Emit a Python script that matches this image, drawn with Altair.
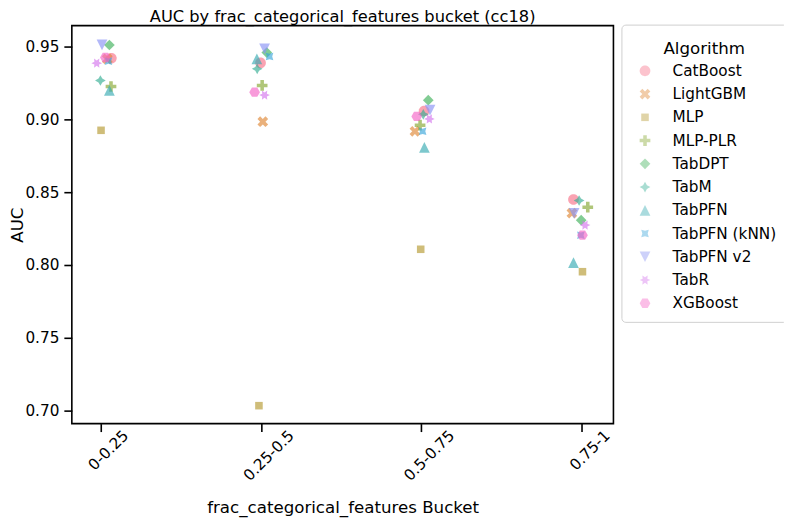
import json
import math
import altair as alt
import pandas as pd

# ---------------- data ----------------
buckets = ["0-0.25", "0.25-0.5", "0.5-0.75", "0.75-1"]
algorithms = ["CatBoost", "LightGBM", "MLP", "MLP-PLR", "TabDPT", "TabM",
              "TabPFN", "TabPFN (kNN)", "TabPFN v2", "TabR", "XGBoost"]

auc_b0 = [0.9420, 0.9415, 0.8925, 0.9226, 0.9511, 0.9267, 0.9199, 0.9400, 0.9512, 0.9386, 0.9425]
auc_b1 = [0.9388, 0.8984, 0.7034, 0.9233, 0.9459, 0.9347, 0.9415, 0.9432, 0.9484, 0.9167, 0.9187]
auc_b2 = [0.9057, 0.8918, 0.8108, 0.8960, 0.9132, 0.9035, 0.8808, 0.8918, 0.9064, 0.9003, 0.9020]
auc_b3 = [0.8450, 0.8356, 0.7954, 0.8397, 0.8308, 0.8443, 0.8016, 0.8205, 0.8354, 0.8274, 0.8205]

# strip-plot jitter (fraction of one category step)
jit_b0 = [0.068, 0.043, 0.004, 0.066, 0.056, 0.000, 0.056, 0.050, 0.010, -0.023, 0.031]
jit_b1 = [-0.002, 0.012, -0.012, 0.008, 0.037, -0.023, -0.025, 0.054, 0.023, 0.023, -0.039]
jit_b2 = [0.017, -0.040, -0.004, -0.008, 0.043, 0.012, 0.019, 0.008, 0.054, 0.050, -0.029]
jit_b3 = [-0.052, -0.062, 0.004, 0.037, -0.004, -0.017, -0.052, -0.006, -0.048, 0.020, 0.004]

colors = ["#f77189", "#df8735", "#b69931", "#86a731", "#3fb05a", "#34ae94",
          "#37abb2", "#3aa6da", "#8992f4", "#d475ed", "#f566c6"]

rows = []
for bi, (aucs, jits) in enumerate([(auc_b0, jit_b0), (auc_b1, jit_b1),
                                   (auc_b2, jit_b2), (auc_b3, jit_b3)]):
    for alg, a, j in zip(algorithms, aucs, jits):
        rows.append({"Algorithm": alg, "Bucket": buckets[bi], "AUC": a, "pos": bi + j})
df = pd.DataFrame(rows)


# ---------------- marker shapes (matplotlib / seaborn style) ----------------
def path_of(pts):
    return "M" + "L".join(f"{x:.4f},{y:.4f}" for x, y in pts) + "Z"


def regular(n, rot):
    return path_of([(math.cos(math.radians(90 + rot + k * 360 / n)),
                     -math.sin(math.radians(90 + rot + k * 360 / n))) for k in range(n)])


def star(n, rot, inner=0.5):
    pts = []
    for k in range(2 * n):
        r = 1 if k % 2 == 0 else inner
        t = math.radians(90 + rot + k * 180 / n)
        pts.append((r * math.cos(t), -r * math.sin(t)))
    return path_of(pts)


x_shape = path_of([(x / 2, y / 2) for x, y in
                   [(-1, -2), (0, -1), (1, -2), (2, -1), (1, 0), (2, 1),
                    (1, 2), (0, 1), (-1, 2), (-2, 1), (-1, 0), (-2, -1)]])
p_shape = path_of([(x / 3, y / 3) for x, y in
                   [(-1, -3), (1, -3), (1, -1), (3, -1), (3, 1), (1, 1),
                    (1, 3), (-1, 3), (-1, 1), (-3, 1), (-3, -1), (-1, -1)]])
shapes = [
    regular(36, 0),                              # o
    x_shape,                                     # X
    regular(4, 45),                              # square
    p_shape,                                     # P
    regular(4, 0),                               # diamond
    star(4, 0),                                  # 4-star
    path_of([(0, -1), (-1, 1), (1, 1)]),         # ^
    star(4, 45),                                 # 4-star rotated
    path_of([(0, 1), (-1, -1), (1, -1)]),        # v
    star(6, 30),                                 # 6-star
    regular(6, 30),                              # hexagon
]

FONT = "DejaVu Sans"
label_expr = json.dumps(buckets) + "[round(datum.value)]"

chart = alt.Chart(df).mark_point(filled=True, opacity=0.65, size=115, strokeWidth=0).encode(
    x=alt.X("pos:Q",
            scale=alt.Scale(domain=[-0.178, 3.197], nice=False, zero=False),
            axis=alt.Axis(values=[0, 1, 2, 3], labelExpr=label_expr,
                          title="frac_categorical_features Bucket",
                          labelAngle=-45, labelAlign="right", labelBaseline="middle",
                          labelOffset={"condition": {"test": "datum.value == 1 || datum.value == 2",
                                                     "value": 30},
                                       "value": 25},
                          labelPadding=1, titlePadding=16)),
    y=alt.Y("AUC:Q",
            scale=alt.Scale(domain=[0.6911, 0.9644], nice=False, zero=False),
            axis=alt.Axis(values=[0.70, 0.75, 0.80, 0.85, 0.90, 0.95], format=".2f",
                          title="AUC", labelPadding=5, titlePadding=-2)),
    color=alt.Color("Algorithm:N",
                    scale=alt.Scale(domain=algorithms, range=colors),
                    legend=alt.Legend(title=["", "Algorithm"], orient="none", legendX=551, legendY=-1,
                                      padding=10, strokeColor="#d0d0d0", fillColor="white",
                                      cornerRadius=4, titleAnchor="middle",
                                      titleFontSize=16.7, titleFontWeight="normal",
                                      titleLineHeight=6,
                                      titleFont=FONT, titleColor="black", titlePadding=6,
                                      labelFont=FONT, labelFontSize=15.3, labelColor="black",
                                      symbolSize=115, symbolOpacity=0.65, symbolStrokeWidth=0,
                                      symbolOffset=6, labelOffset=20, rowPadding=7.3)),
    shape=alt.Shape("Algorithm:N", scale=alt.Scale(domain=algorithms, range=shapes)),
).properties(
    width=543, height=399,
    autosize=alt.AutoSizeParams(type="none"),
    padding={"left": 64, "top": 17, "right": 171, "bottom": 95},
    title=alt.TitleParams("AUC by frac_categorical_features bucket (cc18)",
                          font=FONT, fontSize=16.3, fontWeight="normal", color="black",
                          anchor="middle", offset=-1),
).configure_view(
    stroke="black", strokeWidth=1.6
).configure_axis(
    domain=False, grid=False,
    labelFont=FONT, labelFontSize=15.3, labelColor="black",
    titleFont=FONT, titleFontSize=16.7, titleFontWeight="normal", titleColor="black",
    tickColor="black", tickSize=8, tickWidth=1.6,
)

chart.save("out.html", embed_options={"renderer": "svg", "actions": False})
